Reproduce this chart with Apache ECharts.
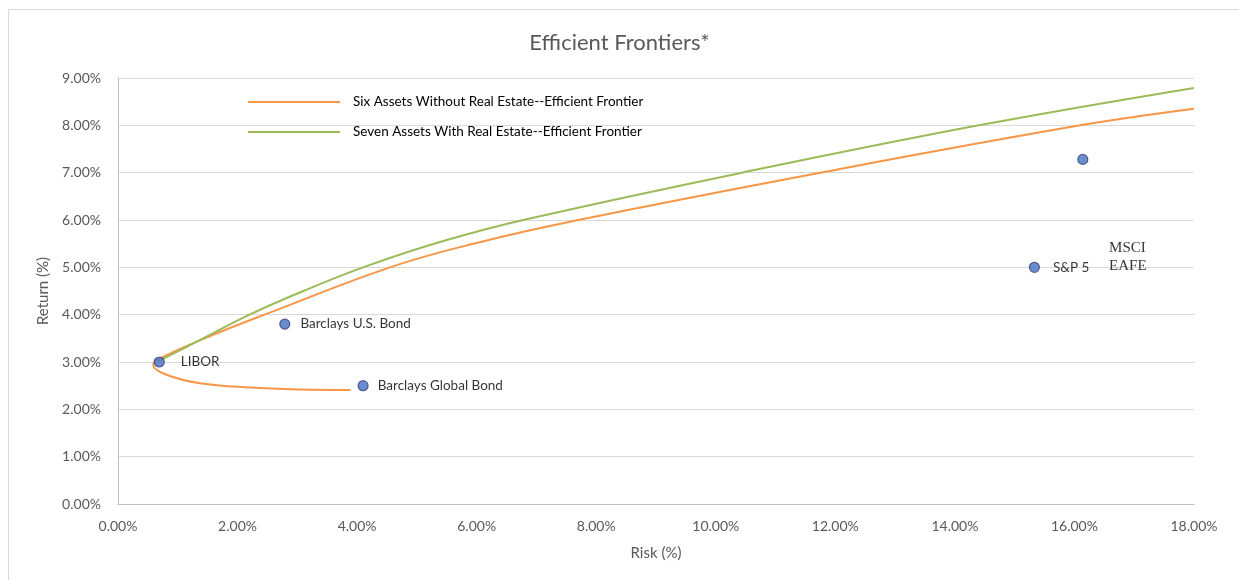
<!DOCTYPE html>
<html>
<head>
<meta charset="utf-8">
<style>
  html, body { margin: 0; padding: 0; background: #fff; }
  #chart { width: 1239px; height: 580px; }
</style>
<script src="https://cdn.jsdelivr.net/npm/echarts@6/dist/echarts.min.js"></script>
</head>
<body>
<div id="chart"></div>
<script>
// Risk (x, %) and return (y, %) pairs along each frontier
var sixAssetFrontier = [
  [3.89, 2.41], [3.04, 2.42], [2.21, 2.46], [1.37, 2.55], [0.81, 2.73],
  [0.59, 2.93], [0.66, 3.05], [1.45, 3.50], [2.45, 4.00], [4.55, 5.00],
  [5.95, 5.50], [7.70, 6.00], [11.75, 7.00], [16.10, 8.00], [18.00, 8.35]
];
var sevenAssetFrontier = [
  [0.68, 3.02], [1.35, 3.45], [2.20, 4.00], [3.10, 4.50], [4.10, 5.00],
  [5.40, 5.54], [6.85, 6.02], [10.44, 7.00], [14.40, 8.00], [18.00, 8.79]
];
// Individual assets: name, risk, return
var assetNames  = ['LIBOR', 'Barclays U.S. Bond', 'Barclays Global Bond', 'S&P 5', ''];
var assetRisk   = [0.69, 2.79, 4.10, 15.33, 16.14];
var assetReturn = [3.00, 3.80, 2.50, 5.00, 7.28];
// Free-standing annotation
var noteText = 'MSCI\nEAFE';
var notePos = [16.58, 5.22];

var legendNames = [
  'Six Assets Without Real Estate--Efficient Frontier',
  'Seven Assets With Real Estate--Efficient Frontier'
];
var xTicks = { min: 0, max: 18, interval: 2 };
var yTicks = { min: 0, max: 9, interval: 1 };

var font = 'Lato, "Noto Sans", sans-serif';
var grey = '#595959';

// gap between each marker and its name
var labelGaps = [16, 10, 9, 13, 10];

var assetPoints = assetNames.map(function (n, i) {
  return {
    name: n,
    value: [assetRisk[i], assetReturn[i]],
    label: { distance: labelGaps[i] }
  };
});

var pct = function (v) { return v.toFixed(2) + '%'; };

var chart = echarts.init(document.getElementById('chart'));
chart.setOption({
  animation: false,
  title: {
    text: 'Efficient Frontiers*',
    left: 'center',
    top: 27,
    textStyle: { fontFamily: font, fontSize: 22, fontWeight: 'normal', color: grey }
  },
  graphic: [{
    type: 'rect',
    shape: { x: 8.5, y: 9.5, width: 1300, height: 700 },
    style: { fill: 'none', stroke: '#D9D9D9', lineWidth: 1 },
    silent: true
  }],
  legend: {
    orient: 'vertical',
    left: 248,
    top: 95,
    padding: 0,
    itemWidth: 92,
    itemHeight: 2,
    itemGap: 16,
    icon: 'rect',
    data: legendNames,
    textStyle: { fontFamily: font, fontSize: 13.5, color: '#000', padding: [0, 0, 0, 8] }
  },
  grid: { left: 118, right: 45, top: 78, bottom: 76 },
  xAxis: {
    type: 'value',
    min: xTicks.min, max: xTicks.max, interval: xTicks.interval,
    name: 'Risk (%)',
    nameLocation: 'middle',
    nameGap: 42,
    nameTextStyle: { fontFamily: font, fontSize: 15, color: grey },
    axisLine: { show: true, lineStyle: { color: '#BFBFBF' } },
    axisTick: { show: false },
    splitLine: { show: false },
    axisLabel: { margin: 15, fontFamily: font, fontSize: 14, color: grey, formatter: pct }
  },
  yAxis: {
    type: 'value',
    min: yTicks.min, max: yTicks.max, interval: yTicks.interval,
    name: 'Return (%)',
    nameLocation: 'middle',
    nameGap: 67,
    nameTextStyle: { fontFamily: font, fontSize: 15, color: grey },
    axisLine: { show: true, lineStyle: { color: '#BFBFBF' } },
    axisTick: { show: false },
    splitLine: { show: true, lineStyle: { color: '#D9D9D9' } },
    axisLabel: { margin: 17, fontFamily: font, fontSize: 14, color: grey, formatter: pct }
  },
  series: [
    {
      name: legendNames[0],
      type: 'line',
      data: sixAssetFrontier,
      smooth: 0.4,
      showSymbol: false,
      color: '#F79646',
      lineStyle: { width: 2, color: '#F79646' }
    },
    {
      name: legendNames[1],
      type: 'line',
      data: sevenAssetFrontier,
      smooth: 0.4,
      showSymbol: false,
      color: '#9BBB59',
      lineStyle: { width: 2, color: '#9BBB59' }
    },
    {
      type: 'scatter',
      data: assetPoints,
      symbolSize: 10,
      z: 5,
      itemStyle: { color: '#4472C4', borderColor: '#3B3E78', borderWidth: 1.2 },
      label: {
        show: true,
        position: 'right',
        fontFamily: font, fontSize: 13.5, color: '#000',
        formatter: function (p) { return p.name; }
      }
    },
    {
      type: 'scatter',
      data: [{ name: noteText, value: notePos }],
      symbolSize: 0,
      silent: true,
      label: {
        show: true,
        position: 'right',
        distance: 0,
        fontFamily: '"Liberation Serif", "DejaVu Serif", serif',
        fontSize: 15, lineHeight: 18, color: '#000',
        formatter: function (p) { return p.name; }
      }
    }
  ]
});
</script>
</body>
</html>
